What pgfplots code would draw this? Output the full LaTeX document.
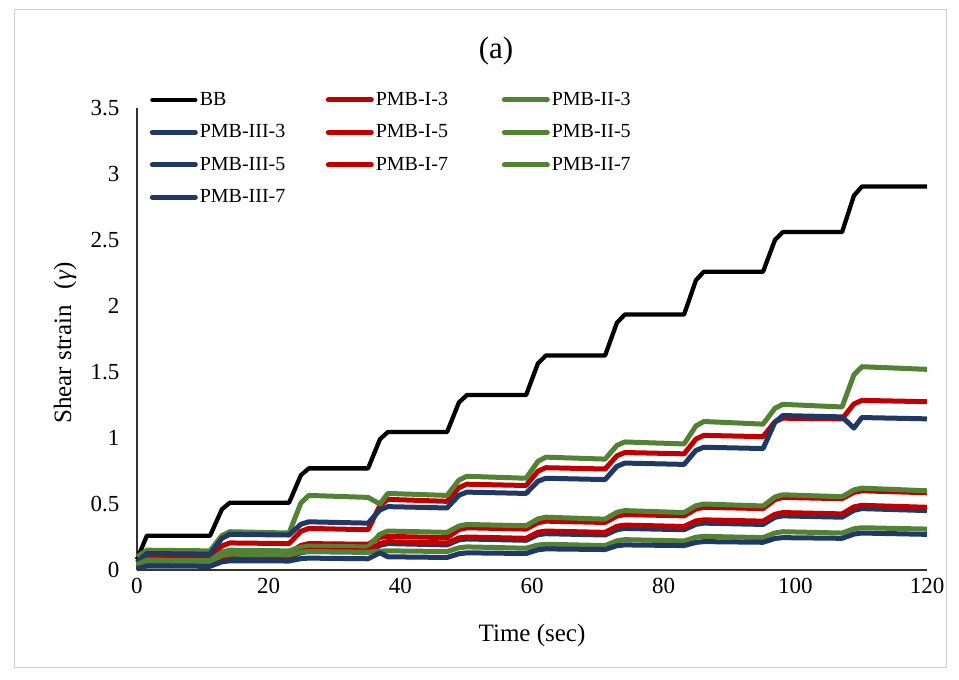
\documentclass[border=0pt]{standalone}
\usepackage{fontspec}
\setmainfont{Liberation Serif}
\usepackage{pgfplots}
\usepackage{pgfplotstable}
\pgfplotsset{compat=1.18}
\definecolor{cred}{RGB}{192,0,0}
\definecolor{cgreen}{RGB}{84,130,53}
\definecolor{cblue}{RGB}{32,56,100}
\pgfplotstableread{
t     bb    g3    r3    b3    g5    r5    r7    b5    g7    b7
0     0.08  0.10  0.05  0.06  0.04  0.03  0.02  0.02  0.03  0.01
1.5   0.26  0.15  0.095 0.125 0.075 0.065 0.05  0.045 0.07  0.03
11.1  0.26  0.145 0.09  0.12  0.07  0.06  0.045 0.04  0.065 0.028
12.9  0.46  0.261 0.182 0.24  0.135 0.12  0.097 0.089 0.109 0.062
14.1  0.51  0.29  0.205 0.27  0.15  0.135 0.11  0.10  0.12  0.07
23.1  0.51  0.28  0.20  0.265 0.145 0.13  0.105 0.095 0.115 0.068
24.9  0.718 0.508 0.293 0.347 0.173 0.186 0.141 0.131 0.136 0.086
26.1  0.77  0.565 0.315 0.365 0.18  0.20  0.15  0.14  0.14  0.09
35.1  0.77  0.55  0.305 0.355 0.175 0.195 0.145 0.135 0.135 0.085
36.9  0.99  0.50  0.489 0.455 0.271 0.247 0.201 0.187 0.143 0.13
38.1  1.045 0.58  0.535 0.48  0.295 0.255 0.215 0.20  0.145 0.10
47.1  1.045 0.565 0.52  0.47  0.285 0.245 0.205 0.19  0.14  0.095
48.9  1.269 0.681 0.624 0.566 0.333 0.306 0.243 0.228 0.168 0.123
50.1  1.325 0.71  0.65  0.59  0.345 0.32  0.25  0.235 0.175 0.13
59.1  1.325 0.695 0.64  0.58  0.335 0.31  0.24  0.225 0.165 0.125
60.9  1.565 0.823 0.748 0.672 0.387 0.358 0.286 0.267 0.189 0.153
62.1  1.625 0.855 0.775 0.695 0.40  0.37  0.295 0.275 0.195 0.16
71.1  1.625 0.84  0.765 0.685 0.385 0.36  0.285 0.265 0.185 0.155
72.9  1.873 0.944 0.865 0.785 0.437 0.408 0.331 0.305 0.221 0.184
74.1  1.935 0.97  0.89  0.81  0.45  0.42  0.34  0.315 0.23  0.19
83.1  1.935 0.955 0.88  0.80  0.435 0.41  0.33  0.305 0.22  0.185
84.9  2.195 1.091 0.992 0.906 0.487 0.462 0.372 0.346 0.248 0.209
86.1  2.26  1.125 1.02  0.93  0.50  0.475 0.38  0.355 0.255 0.215
95.1  2.26  1.105 1.01  0.92  0.485 0.465 0.37  0.345 0.245 0.21
96.9  2.50  1.225 1.122 1.12  0.553 0.533 0.422 0.399 0.281 0.239
98.1  2.56  1.255 1.15  1.17  0.57  0.55  0.435 0.41  0.29  0.245
107.1 2.56  1.235 1.145 1.16  0.555 0.54  0.425 0.40  0.28  0.24
108.9 2.836 1.479 1.258 1.075 0.607 0.588 0.478 0.452 0.312 0.272
110.1 2.905 1.54  1.285 1.155 0.62  0.60  0.49  0.465 0.32  0.28
120   2.905 1.52  1.275 1.145 0.60  0.585 0.475 0.45  0.31  0.27
}\data
\newcommand{\lb}[1]{\makebox[124pt][l]{#1}}
\begin{document}
\begin{tikzpicture}[x=1pt,y=1pt]
\path[use as bounding box] (-137,-110) rectangle (822,570);
\draw[black!18, line width=1pt] (-122,-98) rectangle (809,560);
\begin{axis}[
  at={(0,0)}, anchor=south west,
  scale only axis, width=790pt, height=462pt,
  xmin=0, xmax=120, ymin=0, ymax=3.5,
  axis x line=bottom, axis y line=left,
  axis line style={-, line width=1.2pt, black!80},
  xtick={0,20,...,120}, ytick={0,0.5,...,3.5},
  major tick length=0pt,
  /pgf/number format/assume math mode=true,
  tick label style={font=\fontsize{23}{27}\selectfont},
  xticklabel style={yshift=-5pt},
  yticklabel style={xshift=-14pt},
  clip=false,
  every axis plot/.append style={line width=5pt, line join=round, no markers},
  legend columns=3,
  legend cell align=left,
  legend image code/.code={\draw[#1, line cap=round] (0pt,0pt) -- (43pt,0pt);},
  legend style={at={(axis description cs:0.016,1.043)}, anchor=north west,
    draw=none, fill=none, inner sep=0pt, row sep=9.5pt,
    font=\fontsize{20}{24}\selectfont,
    nodes={inner sep=2pt, text height=15pt, text depth=4pt}},
]
\addplot[black, line width=4.3pt] table[x=t,y=bb] {\data};
\addlegendentry{\lb{BB}}
\addplot[cred] table[x=t,y=r3] {\data};
\addlegendentry{\lb{PMB-I-3}}
\addplot[cgreen] table[x=t,y=g3] {\data};
\addlegendentry{\lb{PMB-II-3}}
\addplot[cblue] table[x=t,y=b3] {\data};
\addlegendentry{\lb{PMB-III-3}}
\addplot[cred] table[x=t,y=r5] {\data};
\addlegendentry{\lb{PMB-I-5}}
\addplot[cgreen] table[x=t,y=g5] {\data};
\addlegendentry{\lb{PMB-II-5}}
\addplot[cblue] table[x=t,y=b5] {\data};
\addlegendentry{\lb{PMB-III-5}}
\addplot[cred] table[x=t,y=r7] {\data};
\addlegendentry{\lb{PMB-I-7}}
\addplot[cgreen] table[x=t,y=g7] {\data};
\addlegendentry{\lb{PMB-II-7}}
\addplot[cblue] table[x=t,y=b7] {\data};
\addlegendentry{\lb{PMB-III-7}}
\end{axis}
\node[font=\fontsize{31}{36}\selectfont] at (359,519) {(a)};
\node[font=\fontsize{25}{30}\selectfont] at (395,-65) {Time (sec)};
\node[rotate=90, font=\fontsize{25}{30}\selectfont] at (-72,227) {Shear strain\hspace{16pt}(\textit{γ})};
\end{tikzpicture}
\end{document}
